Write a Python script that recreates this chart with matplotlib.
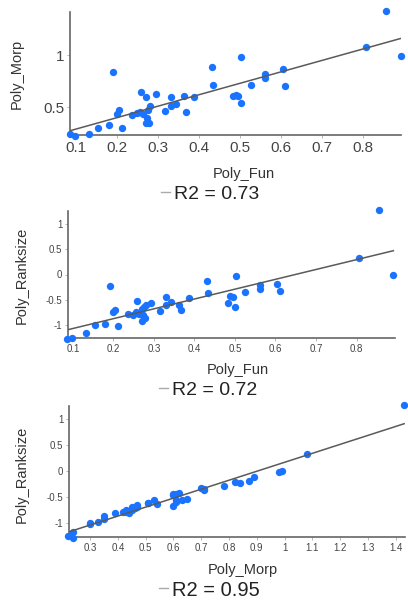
import numpy as np
import matplotlib
matplotlib.use("Agg")
import matplotlib.pyplot as plt
from matplotlib.lines import Line2D

plt.rcParams["font.family"] = ["Liberation Sans", "DejaVu Sans"]

# one row per site: Poly_Fun, Poly_Morp, Poly_Ranksize
poly_fun = [0.085, 0.098, 0.132, 0.154, 0.180, 0.191, 0.204, 0.199, 0.211, 0.237,
            0.248, 0.256, 0.258, 0.264, 0.270, 0.272, 0.270, 0.277, 0.276, 0.280,
            0.294, 0.316, 0.331, 0.331, 0.343, 0.362, 0.368, 0.387, 0.430, 0.434,
            0.483, 0.489, 0.495, 0.501, 0.502, 0.526, 0.561, 0.561, 0.604, 0.610,
            0.806, 0.856, 0.891]
poly_morp = [0.24, 0.22, 0.24, 0.30, 0.33, 0.84, 0.47, 0.43, 0.30, 0.42,
             0.44, 0.45, 0.65, 0.43, 0.60, 0.39, 0.35, 0.35, 0.47, 0.51,
             0.63, 0.46, 0.60, 0.51, 0.53, 0.61, 0.45, 0.60, 0.89, 0.71,
             0.61, 0.62, 0.61, 0.54, 0.98, 0.71, 0.82, 0.78, 0.87, 0.70,
             1.08, 1.43, 0.99]
poly_rank = [-1.28, -1.26, -1.17, -1.01, -0.98, -0.23, -0.70, -0.75, -1.02, -0.79,
             -0.80, -0.75, -0.53, -0.78, -0.68, -0.80, -0.92, -0.86, -0.65, -0.61,
             -0.56, -0.72, -0.45, -0.61, -0.55, -0.60, -0.70, -0.46, -0.12, -0.36,
             -0.56, -0.42, -0.44, -0.64, -0.02, -0.35, -0.21, -0.28, -0.19, -0.33,
             0.32, 1.27, 0.00]
r2_labels = ["R2 = 0.73", "R2 = 0.72", "R2 = 0.95"]

W, H = 408, 602

panels = [
    dict(x=poly_fun, y=poly_morp, xlabel="Poly_Fun", ylabel="Poly_Morp",
         box=(70, 12, 401, 135), xlim=(0.085, 0.892), ylim=(0.23, 1.42),
         xticks=[0.1, 0.2, 0.3, 0.4, 0.5, 0.6, 0.7, 0.8], yticks=[0.5, 1],
         tick_fs=11, label_fs=10.5, r2_fs=14,
         xlab_pos=(244, 174), ylab_pos=(17, 74), r2_pos=(210, 194)),
    dict(x=poly_fun, y=poly_rank, xlabel="Poly_Fun", ylabel="Poly_Ranksize",
         box=(68, 211, 395, 338), xlim=(0.088, 0.895), ylim=(-1.26, 1.26),
         xticks=[0.1, 0.2, 0.3, 0.4, 0.5, 0.6, 0.7, 0.8], yticks=[-1, -0.5, 0, 0.5, 1],
         tick_fs=7, label_fs=10.5, r2_fs=14,
         xlab_pos=(238, 370), ylab_pos=(22, 275), r2_pos=(208, 390)),
    dict(x=poly_morp, y=poly_rank, xlabel="Poly_Morp", ylabel="Poly_Ranksize",
         box=(69, 406, 405, 537), xlim=(0.224, 1.433), ylim=(-1.27, 1.25),
         xticks=[0.3, 0.4, 0.5, 0.6, 0.7, 0.8, 0.9, 1, 1.1, 1.2, 1.3, 1.4],
         yticks=[-1, -0.5, 0, 0.5, 1],
         tick_fs=7, label_fs=10.5, r2_fs=14.5,
         xlab_pos=(243, 570), ylab_pos=(22, 474), r2_pos=(209, 590)),
]

fig = plt.figure(figsize=(W / 100, H / 100), dpi=100)

for p, r2 in zip(panels, r2_labels):
    x0, y0, x1, y1 = p["box"]
    ax = fig.add_axes([x0 / W, 1 - y1 / H, (x1 - x0) / W, (y1 - y0) / H])
    x = np.array(p["x"])
    y = np.array(p["y"])
    ax.scatter(x, y, s=28, color="#1a73ff", zorder=3, clip_on=False, linewidths=0)
    slope, icpt = np.polyfit(x, y, 1)
    xs = np.array([x.min(), x.max()])
    ax.plot(xs, slope * xs + icpt, color="#5a5a5a", lw=1.1, zorder=4)

    ax.set_xlim(*p["xlim"])
    ax.set_ylim(*p["ylim"])
    ax.set_xticks(p["xticks"])
    ax.set_xticklabels([f"{t:g}" for t in p["xticks"]])
    ax.set_yticks(p["yticks"])
    ax.set_yticklabels([f"{t:g}" for t in p["yticks"]])
    ax.tick_params(labelsize=p["tick_fs"], colors="#aaaaaa", labelcolor="#444444",
                   length=2, width=0.6, pad=2)
    for side in ["top", "right"]:
        ax.spines[side].set_visible(False)
    for side in ["left", "bottom"]:
        ax.spines[side].set_color("#666666")
        ax.spines[side].set_linewidth(1.2)

    lx, ly = p["xlab_pos"]
    fig.text(lx / W, 1 - ly / H, p["xlabel"], fontsize=p["label_fs"], color="#333333",
             ha="center", va="center")
    lx, ly = p["ylab_pos"]
    fig.text(lx / W, 1 - ly / H, p["ylabel"], fontsize=p["label_fs"], color="#333333",
             ha="center", va="center", rotation=90)

    handle = Line2D([], [], color="#aaaaaa", lw=1)
    rx, ry = p["r2_pos"]
    fig.legend([handle], [r2], loc="center", bbox_to_anchor=(rx / W, 1 - ry / H),
               frameon=False, fontsize=p["r2_fs"], handlelength=0.45,
               handletextpad=0.2, labelcolor="#222222", borderpad=0, borderaxespad=0)

fig.savefig("out.png", dpi=100)
